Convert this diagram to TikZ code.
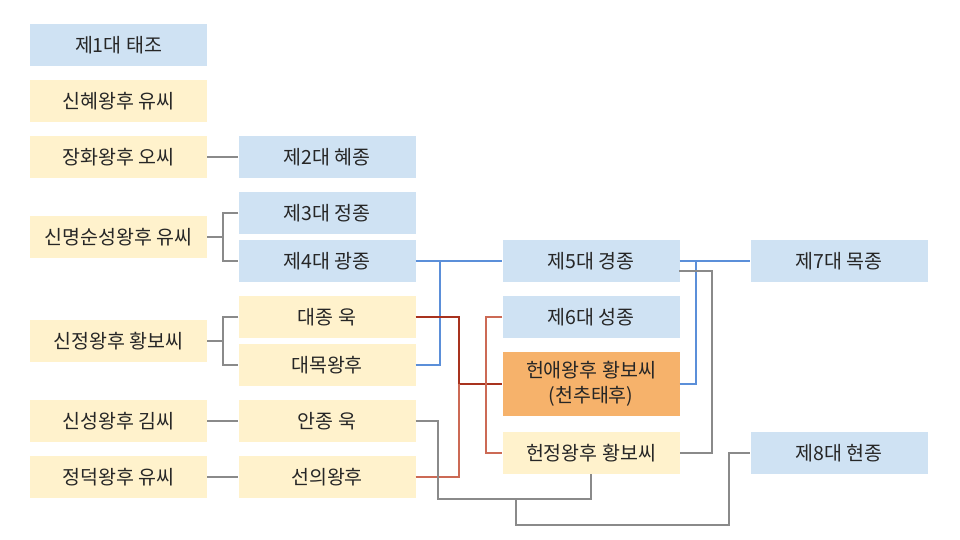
\documentclass[tikz,border=0pt]{standalone}
\usepackage{fontspec}
\setmainfont{Noto Sans CJK KR}
\begin{document}
\begin{tikzpicture}[x=1pt,y=-1pt,
  box/.style={minimum width=177pt,minimum height=42pt,inner sep=0pt,align=center,font=\fontsize{19.5}{25}\selectfont,text=black!85},
  bluebox/.style={box,fill=blueF},
  yelbox/.style={box,fill=yelF},
  orbox/.style={box,fill=orF,minimum height=64pt},
  gl/.style={draw=grayL,line width=1.2pt},
  bl/.style={draw=blueL,line width=1.2pt},
  rd/.style={draw=redD,line width=1.2pt},
  rl/.style={draw=redL,line width=1.2pt}]
\definecolor{blueF}{HTML}{CFE2F3}
\definecolor{yelF}{HTML}{FFF2CC}
\definecolor{orF}{HTML}{F6B26B}
\definecolor{grayL}{HTML}{8A8A8A}
\definecolor{blueL}{HTML}{5B8FD9}
\definecolor{redD}{HTML}{A8321E}
\definecolor{redL}{HTML}{CC6A55}
\useasboundingbox (0,0) rectangle (960,540);
% column 1
\node[bluebox] (taejo) at (118.5,45) {제1대 태조};
\node[yelbox] (sinhye) at (118.5,101) {신혜왕후 유씨};
\node[yelbox] (janghwa) at (118.5,157) {장화왕후 오씨};
\node[yelbox] (sinmyeong) at (118.5,237) {신명순성왕후 유씨};
\node[yelbox] (sinjeong) at (118.5,341) {신정왕후 황보씨};
\node[yelbox] (sinseong) at (118.5,421) {신성왕후 김씨};
\node[yelbox] (jeongdeok) at (118.5,477) {정덕왕후 유씨};
% column 2
\node[bluebox] (hyejong) at (327,157) {제2대 혜종};
\node[bluebox] (jeongjong) at (327,213) {제3대 정종};
\node[bluebox] (gwangjong) at (327,261) {제4대 광종};
\node[yelbox] (daejong) at (327,317) {대종 욱};
\node[yelbox] (daemok) at (327,365) {대목왕후};
\node[yelbox] (anjong) at (327,421) {안종 욱};
\node[yelbox] (seonui) at (327,477) {선의왕후};
% column 3
\node[bluebox] (gyeongjong) at (591,261) {제5대 경종};
\node[bluebox] (seongjong) at (591,317) {제6대 성종};
\node[orbox] (heonae) at (591,384) {헌애왕후 황보씨\\(천추태후)};
\node[yelbox] (heonjeong) at (591,453) {헌정왕후 황보씨};
% column 4
\node[bluebox] (mokjong) at (839,261) {제7대 목종};
\node[bluebox] (hyeonjong) at (839,453) {제8대 현종};
% gray connectors col1-col2
\draw[gl] (janghwa.east) -- (hyejong.west);
\draw[gl] (sinmyeong.east) -- (223,237);
\draw[gl] (jeongjong.west) -| (223,261) -- (gwangjong.west);
\draw[gl] (sinjeong.east) -- (223,341);
\draw[gl] (daejong.west) -| (223,365) -- (daemok.west);
\draw[gl] (sinseong.east) -- (anjong.west);
\draw[gl] (jeongdeok.east) -- (seonui.west);
% blue
\draw[bl] (gwangjong.east) -- (gyeongjong.west);
\draw[bl] (daemok.east) -| (440,261);
\draw[bl] (gyeongjong.east) -- (mokjong.west);
\draw[bl] (heonae.east) -| (696,261);
% red
\draw[rd] (daejong.east) -| (459,384) -- (heonae.west);
\draw[rl] (seonui.east) -| (459,384);
\draw[rl] (seongjong.west) -| (486,453) -- (heonjeong.west);
% gray others
\draw[gl] (679,271) -| (712,453) -- (heonjeong.east);
\draw[gl] (anjong.east) -| (438,499) -| (heonjeong.south);
\draw[gl] (516,499) |- (729,525) |- (hyeonjong.west);
\end{tikzpicture}
\end{document}
